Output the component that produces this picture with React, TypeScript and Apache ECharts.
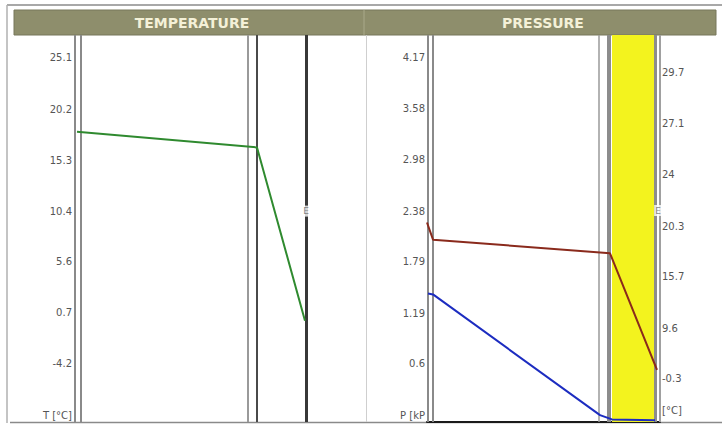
import React, { useEffect, useRef } from "react";
import * as echarts from "echarts";

// ---- axis ticks & labels ----
const TEMP_TICKS = [25.1, 20.2, 15.3, 10.4, 5.6, 0.7, -4.2, -9.1];
const TEMP_LABELS = ["25.1", "20.2", "15.3", "10.4", "5.6", "0.7", "-4.2", "T [°C]"];
const PRESS_TICKS = [4.17, 3.58, 2.98, 2.38, 1.79, 1.19, 0.6, 0];
const PRESS_LABELS = ["4.17", "3.58", "2.98", "2.38", "1.79", "1.19", "0.6", "P [kP"];
const SAT_LABELS = ["29.7", "27.1", "24", "20.3", "15.7", "9.6", "-0.3"];
const SAT_UNIT = "[°C]";
const TITLES = ["TEMPERATURE", "PRESSURE"];

// ---- wall layer boundaries (mm across the section) ----
const TEMP_LAYERS = [0, 6, 173, 182, 231, 291];
const PRESS_LAYERS = [1, 6, 172, 182, 228, 233];
const INSULATION = [185, 227];

// ---- series ----
const TEMP_X = [2, 182, 230];
const TEMP_VALUES = [18.7, 17.2, 0.6];
const SAT_X = [0, 6, 183, 230];
const SAT_VALUES = [2.33, 2.13, 1.97, 0.61];
const VAP_X = [1, 6, 173, 185, 228];
const VAP_VALUES = [1.5, 1.49, 0.08, 0.03, 0.02];
const MARK_E_TEMP = [231, 11.1];
const MARK_E_PRESS = [231, 2.47];

const TEMP_LAYER_STYLES = [
  { color: "#8a8a8a", width: 2 },
  { color: "#8a8a8a", width: 2 },
  { color: "#9a9a9a", width: 2 },
  { color: "#4a4a4a", width: 2 },
  { color: "#383838", width: 3 },
  { color: "#cfcfcf", width: 1 },
];
const PRESS_LAYER_STYLES = [
  { color: "#8a8a8a", width: 2 },
  { color: "#8a8a8a", width: 2 },
  { color: "#9a9a9a", width: 1.5 },
  { color: "#8c8c8c", width: 4 },
  { color: "#8c8c8c", width: 3 },
  { color: "#a0a0a0", width: 2 },
];

const FONT = "DejaVu Sans";

function nearestIndex(ticks: number[], v: number) {
  let best = 0;
  for (let i = 1; i < ticks.length; i++) {
    if (Math.abs(ticks[i] - v) < Math.abs(ticks[best] - v)) best = i;
  }
  return best;
}

export default function App() {
  const ref = useRef<HTMLDivElement>(null);
  useEffect(() => {
    if (!ref.current) return;
    const chart = echarts.init(ref.current, undefined, { renderer: "svg" });
    const labelBase = { fontFamily: FONT, fontSize: 10, color: "#555" };
    const zip = (xs: number[], ys: number[]) => xs.map((x, i) => [x, ys[i]]);
    const eLabel = {
      show: true,
      position: "inside",
      formatter: "E",
      fontFamily: FONT,
      fontSize: 9,
      color: "#666",
      backgroundColor: "#ffffff",
      padding: [1, 1],
    };
    const option: any = {
      animation: false,
      backgroundColor: "#ffffff",
      grid: [
        { left: 75, width: 291, top: 35, bottom: 4 },
        { left: 427, width: 233, top: 35, bottom: 4 },
      ],
      xAxis: [
        { type: "value", gridIndex: 0, min: 0, max: 291, show: false },
        {
          type: "value",
          gridIndex: 1,
          min: 0,
          max: 233,
          axisLine: { show: true, onZero: false, lineStyle: { color: "#1a1a1a", width: 2 } },
          axisTick: { show: false },
          axisLabel: { show: false },
          splitLine: { show: false },
        },
      ],
      yAxis: [
        {
          type: "value",
          gridIndex: 0,
          min: -9.1,
          max: 27.97,
          axisLine: { show: false },
          axisTick: { show: false },
          splitLine: { show: false },
          axisLabel: {
            ...labelBase,
            margin: 3,
            customValues: TEMP_TICKS,
            verticalAlign: "bottom",
            lineHeight: 14,
            formatter: (v: number) => TEMP_LABELS[nearestIndex(TEMP_TICKS, v)],
          },
        },
        {
          type: "value",
          gridIndex: 1,
          min: 0,
          max: 4.52,
          axisLine: { show: false },
          axisTick: { show: false },
          splitLine: { show: false },
          axisLabel: {
            ...labelBase,
            margin: 2,
            customValues: PRESS_TICKS,
            verticalAlign: "bottom",
            lineHeight: 14,
            formatter: (v: number) => PRESS_LABELS[nearestIndex(PRESS_TICKS, v)],
          },
        },
        {
          type: "value",
          gridIndex: 1,
          position: "right",
          min: 0,
          max: 4.52,
          axisLine: { show: false },
          axisTick: { show: false },
          splitLine: { show: false },
          axisLabel: {
            ...labelBase,
            margin: 2,
            customValues: PRESS_TICKS.slice(0, SAT_LABELS.length),
            verticalAlign: "top",
            lineHeight: 16,
            formatter: (v: number) => SAT_LABELS[nearestIndex(PRESS_TICKS, v)] ?? "",
          },
        },
      ],
      series: [
        {
          type: "line",
          xAxisIndex: 0,
          yAxisIndex: 0,
          data: [],
          silent: true,
          markLine: {
            silent: true,
            symbol: "none",
            label: { show: false },
            data: TEMP_LAYERS.map((x, i) => ({ xAxis: x, lineStyle: { type: "solid", ...TEMP_LAYER_STYLES[i] } })),
          },
        },
        {
          type: "line",
          xAxisIndex: 1,
          yAxisIndex: 1,
          data: [],
          silent: true,
          markArea: {
            silent: true,
            itemStyle: { color: "#f3f31e" },
            data: [[{ xAxis: INSULATION[0] }, { xAxis: INSULATION[1] }]],
          },
          markLine: {
            silent: true,
            symbol: "none",
            label: { show: false },
            data: PRESS_LAYERS.map((x, i) => ({ xAxis: x, lineStyle: { type: "solid", ...PRESS_LAYER_STYLES[i] } })),
          },
        },
        {
          name: "Temperature",
          type: "line",
          xAxisIndex: 0,
          yAxisIndex: 0,
          data: zip(TEMP_X, TEMP_VALUES),
          symbol: "none",
          lineStyle: { color: "#2f8a2f", width: 2 },
          z: 5,
        },
        {
          name: "Saturation pressure",
          type: "line",
          xAxisIndex: 1,
          yAxisIndex: 1,
          data: zip(SAT_X, SAT_VALUES),
          symbol: "none",
          lineStyle: { color: "#8a2a1c", width: 2 },
          z: 5,
        },
        {
          name: "Vapour pressure",
          type: "line",
          xAxisIndex: 1,
          yAxisIndex: 1,
          data: zip(VAP_X, VAP_VALUES),
          symbol: "none",
          lineStyle: { color: "#1c2cc0", width: 2 },
          z: 5,
        },
        {
          type: "scatter",
          xAxisIndex: 0,
          yAxisIndex: 0,
          symbolSize: 0,
          silent: true,
          data: [MARK_E_TEMP],
          label: eLabel,
          z: 6,
        },
        {
          type: "scatter",
          xAxisIndex: 1,
          yAxisIndex: 1,
          symbolSize: 0,
          silent: true,
          data: [MARK_E_PRESS],
          label: eLabel,
          z: 6,
        },
      ],
      graphic: [
        { type: "line", shape: { x1: 7, y1: 5, x2: 722, y2: 5 }, style: { stroke: "#a8a8a8", lineWidth: 2 } },
        { type: "line", shape: { x1: 7, y1: 5, x2: 7, y2: 423 }, style: { stroke: "#b0b0b0", lineWidth: 1.5 } },
        { type: "line", shape: { x1: 10, y1: 422.5, x2: 722, y2: 422.5 }, style: { stroke: "#8a8a8a", lineWidth: 1.5 }, z: -1 },
        {
          type: "rect",
          shape: { x: 14, y: 10, width: 702, height: 25 },
          style: { fill: "#8e8e6c", stroke: "#77775a", lineWidth: 1 },
        },
        { type: "line", shape: { x1: 364, y1: 10, x2: 364, y2: 35 }, style: { stroke: "#a9a98a", lineWidth: 1 } },
        {
          type: "text",
          x: 192,
          y: 23,
          style: {
            text: TITLES[0],
            fill: "#f4f1d8",
            font: `bold 14px "${FONT}"`,
            align: "center",
            verticalAlign: "middle",
          },
        },
        {
          type: "text",
          x: 543,
          y: 23,
          style: {
            text: TITLES[1],
            fill: "#f4f1d8",
            font: `bold 14px "${FONT}"`,
            align: "center",
            verticalAlign: "middle",
          },
        },
        {
          type: "text",
          x: 662,
          y: 410,
          style: {
            text: SAT_UNIT,
            fill: "#555",
            font: `10px "${FONT}"`,
            align: "left",
            verticalAlign: "middle",
          },
        },
      ],
    };
    chart.setOption(option);
    return () => chart.dispose();
  }, []);
  return (
    <div
      ref={ref}
      style={{ position: "fixed", left: 0, top: 0, width: 722, height: 426, background: "#fff" }}
    />
  );
}
